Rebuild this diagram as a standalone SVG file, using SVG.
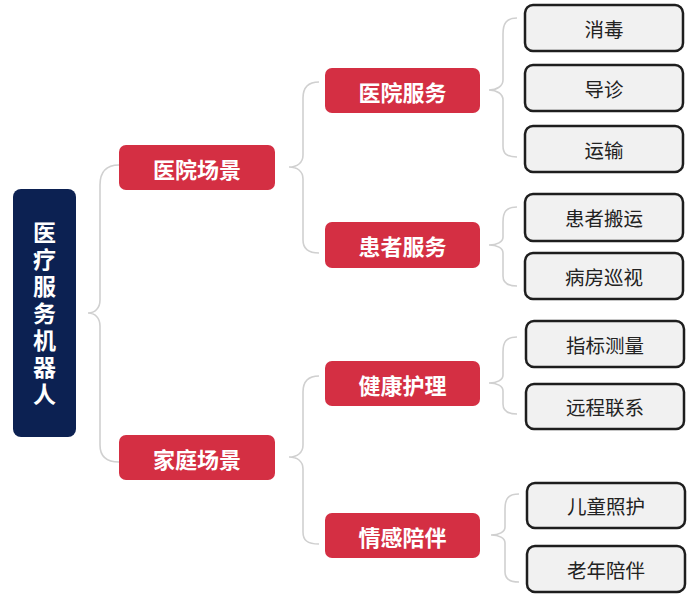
<svg xmlns="http://www.w3.org/2000/svg" width="700" height="600" viewBox="0 0 700 600">
<style>
.bg{fill:#ffffff}
.root rect{fill:#0C2152}
.root text{fill:#ffffff;font-family:"Noto Sans CJK SC","Noto Sans",sans-serif;font-size:23px;font-weight:bold;text-anchor:middle;writing-mode:vertical-rl;letter-spacing:4px}
.red rect{fill:#D42F43}
.red text{fill:#ffffff;font-family:"Noto Sans CJK SC","Noto Sans",sans-serif;font-size:22px;font-weight:bold;text-anchor:middle;dominant-baseline:central}
.leaf rect{fill:#F1F1F1;stroke:#1E1E1E;stroke-width:2.5}
.leaf text{fill:#222222;font-family:"Noto Sans CJK SC","Noto Sans",sans-serif;font-size:19.5px;text-anchor:middle;dominant-baseline:central}
#connectors path{fill:none;stroke:#D0D0D0;stroke-width:1.6}
</style>
<rect class="bg" x="0" y="0" width="700" height="600"/>
<g id="connectors">
<path d="M119,165 C106,165 100,172 100,185 L100,300 C100,308 95,313 88,313 C95,313 100,318 100,326 L100,445 C100,456 106,462 119,462"/>
<path d="M319,82 C307,82 303,88 303,98 L303,155 C303,163 297,167 289,167 C297,167 303,171 303,179 L303,240 C303,248 307,253 319,253"/>
<path d="M319,376 C307,376 303,382 303,392 L303,445 C303,453 297,457 289,457 C297,457 303,461 303,469 L303,532 C303,540 307,544 319,544"/>
<path d="M517,18 C506,18 503,24 503,34 L503,80 C503,86 497,90 489,90 C497,90 503,94 503,100 L503,146 C503,153 506,157 517,157"/>
<path d="M517,207 C506,207 503,212 503,222 L503,237 C503,242 497,245 489,245 C497,245 503,248 503,253 L503,276 C503,282 506,286 517,286"/>
<path d="M517,337 C506,337 503,342 503,352 L503,375 C503,380 497,383 489,383 C497,383 503,386 503,391 L503,404 C503,410 506,414 517,414"/>
<path d="M519,494 C508,494 505,499 505,509 L505,527 C505,532 499,535 491,535 C499,535 505,538 505,543 L505,572 C505,578 508,582 519,582"/>
</g>
<g id="root" class="root">
<rect x="13" y="189" width="63" height="248" rx="8"/>
<text x="44.5" y="315">医疗服务机器人</text>
</g>
<g id="n-hospital-scene" class="red">
<rect x="119" y="145" width="156" height="45" rx="7"/>
<text x="197" y="167.5">医院场景</text>
</g>
<g id="n-home-scene" class="red">
<rect x="119" y="435" width="156" height="45" rx="7"/>
<text x="197" y="457.5">家庭场景</text>
</g>
<g id="n-hospital-service" class="red">
<rect x="325" y="68" width="155" height="45" rx="7"/>
<text x="402.5" y="90.5">医院服务</text>
</g>
<g id="n-patient-service" class="red">
<rect x="325" y="222" width="155" height="46" rx="7"/>
<text x="402.5" y="245">患者服务</text>
</g>
<g id="n-health-care" class="red">
<rect x="325" y="361" width="155" height="45" rx="7"/>
<text x="402.5" y="383.5">健康护理</text>
</g>
<g id="n-companion" class="red">
<rect x="325" y="513" width="155" height="45" rx="7"/>
<text x="402.5" y="535.5">情感陪伴</text>
</g>
<g id="l-disinfect" class="leaf">
<rect x="525" y="5" width="158" height="46" rx="8"/>
<text x="604" y="28">消毒</text>
</g>
<g id="l-guide" class="leaf">
<rect x="525" y="65" width="158" height="46" rx="8"/>
<text x="604" y="88">导诊</text>
</g>
<g id="l-transport" class="leaf">
<rect x="525" y="126" width="158" height="46" rx="8"/>
<text x="604" y="149">运输</text>
</g>
<g id="l-patient-move" class="leaf">
<rect x="525" y="194" width="158" height="47" rx="8"/>
<text x="604" y="217.5">患者搬运</text>
</g>
<g id="l-ward-round" class="leaf">
<rect x="525" y="253" width="158" height="46" rx="8"/>
<text x="604" y="276">病房巡视</text>
</g>
<g id="l-indicator" class="leaf">
<rect x="526" y="321" width="158" height="46" rx="8"/>
<text x="605" y="344">指标测量</text>
</g>
<g id="l-remote" class="leaf">
<rect x="526" y="384" width="158" height="45" rx="8"/>
<text x="605" y="406.5">远程联系</text>
</g>
<g id="l-child" class="leaf">
<rect x="527" y="483" width="158" height="45" rx="8"/>
<text x="606" y="505.5">儿童照护</text>
</g>
<g id="l-elder" class="leaf">
<rect x="527" y="546" width="158" height="46" rx="8"/>
<text x="606" y="569">老年陪伴</text>
</g>
</svg>
